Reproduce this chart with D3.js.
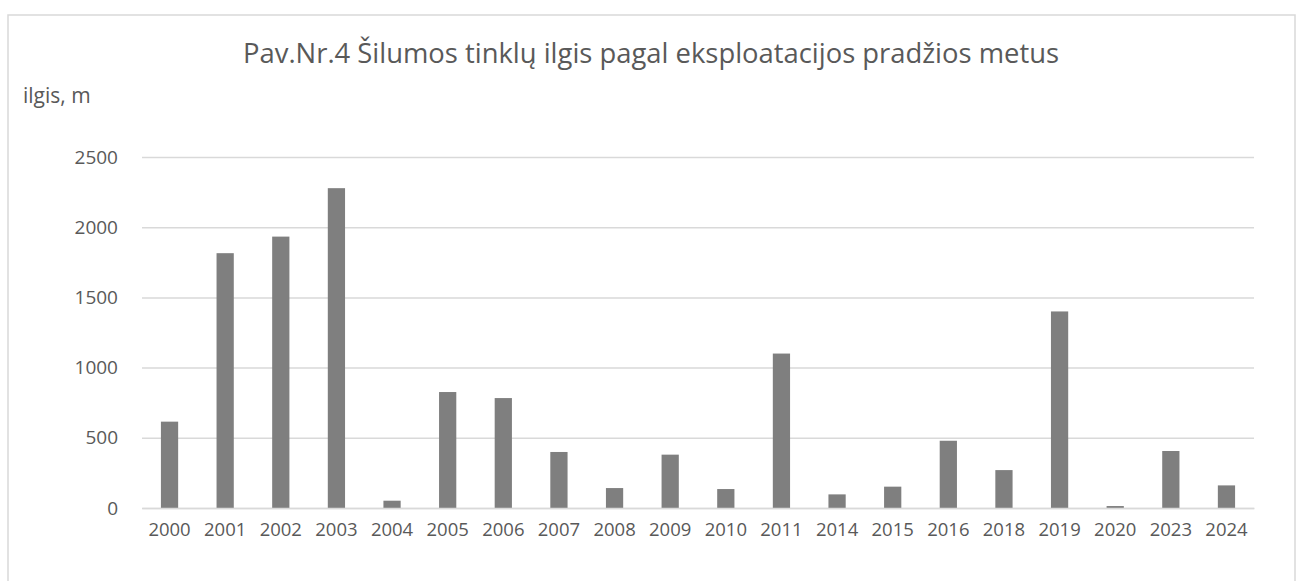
<!DOCTYPE html>
<html>
<head>
<meta charset="utf-8">
<script src="https://cdn.jsdelivr.net/npm/d3@7"></script>
<style>
  body { margin: 0; background: #fff; }
  text { font-family: "Open Sans", "Noto Sans", sans-serif; fill: #595959; }
</style>
</head>
<body>
<div id="chart"></div>
<script>
// data
const years = ["2000", "2001", "2002", "2003", "2004", "2005", "2006", "2007", "2008", "2009",
    "2010", "2011", "2014", "2015", "2016", "2018", "2019", "2020", "2023", "2024"];
const lengths = [615, 1815, 1933, 2278, 52, 826, 783, 399, 142, 380,
    135, 1100, 97, 152, 479, 270, 1400, 14, 406, 161];
const yTicks = [0, 500, 1000, 1500, 2000, 2500];

const chartTitle = "Pav.Nr.4 Šilumos tinklų ilgis pagal eksploatacijos pradžios metus";
const yLabel = "ilgis, m";

const W = 1301, H = 581;
const margin = { top: 157, right: 47, bottom: 73, left: 142 },
    width = W - margin.left - margin.right,
    height = H - margin.top - margin.bottom;

const svg = d3.select("#chart").append("svg")
    .attr("width", W)
    .attr("height", H);

// chart area frame
svg.append("rect")
    .attr("x", 8).attr("y", 15)
    .attr("width", 1287).attr("height", 600)
    .attr("fill", "none")
    .attr("stroke", "#d9d9d9")
    .attr("stroke-width", 1.5);

svg.append("text")
    .attr("x", 651).attr("y", 63)
    .attr("text-anchor", "middle")
    .attr("textLength", 816)
    .attr("lengthAdjust", "spacingAndGlyphs")
    .style("font-size", "27px")
    .text(chartTitle);

svg.append("text")
    .attr("x", 23).attr("y", 103)
    .style("font-size", "21px")
    .text(yLabel);

const g = svg.append("g")
    .attr("transform", `translate(${margin.left},${margin.top})`);

const x = d3.scaleBand()
    .domain(years)
    .range([0, width])
    .paddingInner(0.69)
    .paddingOuter(0.34);

const y = d3.scaleLinear()
    .domain([0, 2500])
    .range([height, 0]);

// gridlines + y labels
const yAxis = g.append("g")
    .call(d3.axisLeft(y).tickValues(yTicks).tickFormat(d3.format("d")).tickSize(-width).tickPadding(24));
yAxis.select(".domain").remove();
yAxis.selectAll("line").attr("stroke", "#d9d9d9").attr("stroke-width", 1.5);
yAxis.selectAll("text").style("font-size", "19px").attr("fill", "#595959");

// bars
g.selectAll("rect.bar")
    .data(years)
    .join("rect")
    .attr("class", "bar")
    .attr("x", d => x(d))
    .attr("width", x.bandwidth())
    .attr("y", (d, i) => y(lengths[i]))
    .attr("height", (d, i) => height - y(lengths[i]))
    .attr("fill", "#7f7f7f");

// x axis
const xAxis = g.append("g")
    .attr("transform", `translate(0,${height})`)
    .call(d3.axisBottom(x).tickSize(0).tickPadding(15));
xAxis.select(".domain").attr("stroke", "#d9d9d9").attr("stroke-width", 1.5);
xAxis.selectAll("text").style("font-size", "18.5px").attr("fill", "#595959");
</script>
</body>
</html>
